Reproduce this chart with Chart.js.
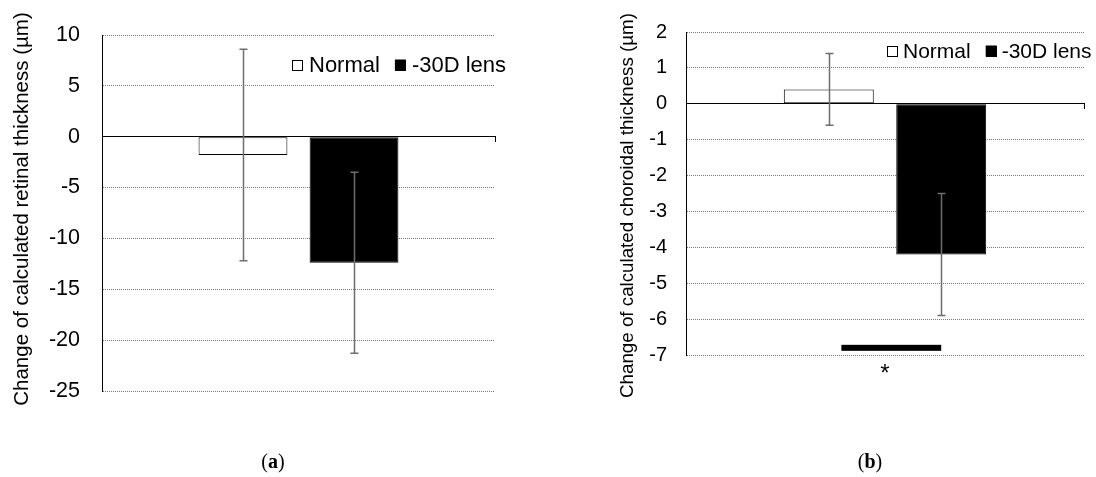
<!DOCTYPE html>
<html><head><meta charset="utf-8">
<script src="https://cdn.jsdelivr.net/npm/chart.js@4.4.1/dist/chart.umd.min.js"></script>
<style>
html,body{margin:0;padding:0;background:#fff;width:1096px;height:477px;overflow:hidden;}
.panel{position:absolute;top:0;}
.cap{position:absolute;font-family:"Liberation Serif",serif;font-size:20px;color:#000;transform:translateX(-50%);white-space:nowrap;}
</style></head><body>
<div class="panel" style="left:0"><canvas id="c1" width="548" height="477"></canvas></div>
<div class="panel" style="left:548px"><canvas id="c2" width="548" height="477"></canvas></div>
<div class="cap" style="left:273px;top:450px">(<b>a</b>)</div>
<div class="cap" style="left:870px;top:450px">(<b>b</b>)</div>
<script>
const groups = ['Normal', '-30D lens'];
const groupColors = ['#ffffff', '#000000'];
const retinalMean = [-1.8, -12.4];
const retinalSD = [10.4, 8.9];
const choroidalMean = [0.4, -4.2];
const choroidalSD = [1.0, 1.7];
const retinalTicks = [-25, -20, -15, -10, -5, 0, 5, 10];
const choroidalTicks = [-7, -6, -5, -4, -3, -2, -1, 0, 1, 2];
const choroidalSigLevel = [-6.8];
const sigLabel = '*';
const retinalTitle = 'Change of calculated retinal thickness (µm)';
const choroidalTitle = 'Change of calculated choroidal thickness (µm)';

const FONT = '"Liberation Sans", Arial, sans-serif';

const errorBars = {
  id: 'errorBars',
  afterDatasetsDraw(chart, args, o) {
    const ctx = chart.ctx, y = chart.scales.y;
    chart.data.datasets.forEach((ds, i) => {
      chart.getDatasetMeta(i).data.forEach((el, j) => {
        const m = ds.data[j], e = ds.errors[j];
        const yt = y.getPixelForValue(m + e), yb = y.getPixelForValue(m - e);
        const x = Math.round(el.x) + 0.5;
        ctx.save();
        ctx.strokeStyle = o.color; ctx.lineWidth = o.width;
        ctx.beginPath();
        ctx.moveTo(x, yt); ctx.lineTo(x, yb);
        ctx.moveTo(x - o.cap, yt); ctx.lineTo(x + o.cap, yt);
        ctx.moveTo(x - o.cap, yb); ctx.lineTo(x + o.cap, yb);
        ctx.stroke();
        ctx.restore();
      });
    });
  }
};

const boxLegend = {
  id: 'boxLegend',
  afterDraw(chart, args, o) {
    const ctx = chart.ctx, ca = chart.chartArea;
    let x = ca.left + o.dx; const cy = ca.top + o.dy;
    ctx.save();
    ctx.font = o.size + 'px ' + FONT;
    ctx.textBaseline = 'middle';
    chart.data.datasets.forEach((ds) => {
      const s = o.box;
      ctx.fillStyle = ds.backgroundColor;
      ctx.fillRect(x, cy - s / 2, s, s);
      ctx.strokeStyle = '#000'; ctx.lineWidth = 1;
      ctx.strokeRect(Math.round(x) + 0.5, Math.round(cy - s / 2) + 0.5, s - 1, s - 1);
      x += s + o.gap;
      ctx.fillStyle = '#000';
      ctx.fillText(ds.label, x, cy + 1);
      x += ctx.measureText(ds.label).width + o.spacing;
    });
    ctx.restore();
  }
};

const axisTitle = {
  id: 'axisTitle',
  afterDraw(chart, args, o) {
    const ctx = chart.ctx;
    ctx.save();
    ctx.translate(o.x, o.y);
    ctx.rotate(-Math.PI / 2);
    ctx.font = o.size + 'px ' + FONT;
    ctx.fillStyle = '#000';
    ctx.textAlign = 'center'; ctx.textBaseline = 'middle';
    ctx.fillText(o.text, 0, 0);
    ctx.restore();
  }
};

const sigBar = {
  id: 'sigBar',
  afterDatasetsDraw(chart, args, o) {
    if (!o || !o.levels) return;
    const ctx = chart.ctx, y = chart.scales.y;
    const a = chart.getDatasetMeta(0).data[0], b = chart.getDatasetMeta(1).data[0];
    const x0 = a.x + a.width * o.startFrac, x1 = b.x;
    const yc = y.getPixelForValue(o.levels[0]);
    ctx.save();
    ctx.fillStyle = '#000';
    ctx.fillRect(x0, yc - o.thick / 2, x1 - x0, o.thick);
    ctx.font = o.size + 'px ' + FONT;
    ctx.textAlign = 'center'; ctx.textBaseline = 'alphabetic';
    ctx.fillText(o.label, (a.x + b.x) / 2, chart.chartArea.bottom + o.labelOffset);
    ctx.restore();
  }
};

function makeChart(id, cfg) {
  return new Chart(document.getElementById(id), {
    type: 'bar',
    data: {
      labels: [''],
      datasets: groups.map((g, i) => ({
        label: g, data: [cfg.mean[i]], errors: [cfg.sd[i]],
        backgroundColor: groupColors[i], borderColor: '#000', borderWidth: 1,
        borderSkipped: false, categoryPercentage: 0.565, barPercentage: 0.8
      }))
    },
    options: {
      responsive: false, animation: false,
      layout: { padding: cfg.padding },
      plugins: {
        legend: { display: false }, tooltip: { enabled: false },
        errorBars: { color: '#6e6e6e', width: 1.5, cap: 4 },
        boxLegend: cfg.legend,
        axisTitle: cfg.titleOpts,
        sigBar: cfg.sig || {}
      },
      scales: {
        x: {
          position: { y: 0 },
          ticks: { display: false },
          grid: { offset: true, drawOnChartArea: false, drawTicks: true, tickLength: 5, tickColor: '#000', tickWidth: 1 },
          border: { color: '#000', width: 1 }
        },
        y: {
          min: cfg.ticks[0], max: cfg.ticks[cfg.ticks.length - 1],
          afterBuildTicks: (s) => { s.ticks = cfg.ticks.map(v => ({ value: v })); },
          afterFit: (s) => { s.width = cfg.axisWidth; },
          grid: {
            drawTicks: false, lineWidth: 1,
            color: (c) => (c.tick && c.tick.value === 0) ? '#000' : '#7a7a7a'
          },
          border: {
            color: '#000', width: 1,
            dash: (c) => (c.type === 'tick' && c.tick && c.tick.value !== 0) ? [1, 1] : []
          },
          ticks: { color: '#000', font: { family: FONT, size: cfg.tickSize }, padding: cfg.tickPad },
          title: { display: false }
        }
      }
    },
    plugins: [errorBars, sigBar, boxLegend, axisTitle]
  });
}

makeChart('c1', {
  mean: retinalMean, sd: retinalSD, ticks: retinalTicks,
  padding: { left: 0, right: 53, top: 35, bottom: 86 },
  axisWidth: 102, tickSize: 21.5, tickPad: 22,
  titleOpts: { text: retinalTitle, size: 20.5, x: 22, y: 209 },
  legend: { dx: 190, dy: 30, box: 11, gap: 6, spacing: 15, size: 22 }
});

makeChart('c2', {
  mean: choroidalMean, sd: choroidalSD, ticks: choroidalTicks,
  padding: { left: 55, right: 12, top: 32, bottom: 122 },
  axisWidth: 83, tickSize: 20, tickPad: 19,
  titleOpts: { text: choroidalTitle, size: 18.75, x: 80, y: 205.5 },
  legend: { dx: 201, dy: 19, box: 11, gap: 5, spacing: 15, size: 21 },
  sig: { levels: choroidalSigLevel, startFrac: 0.14, thick: 6, label: sigLabel, size: 24, labelOffset: 26 }
});
</script>
</body></html>
